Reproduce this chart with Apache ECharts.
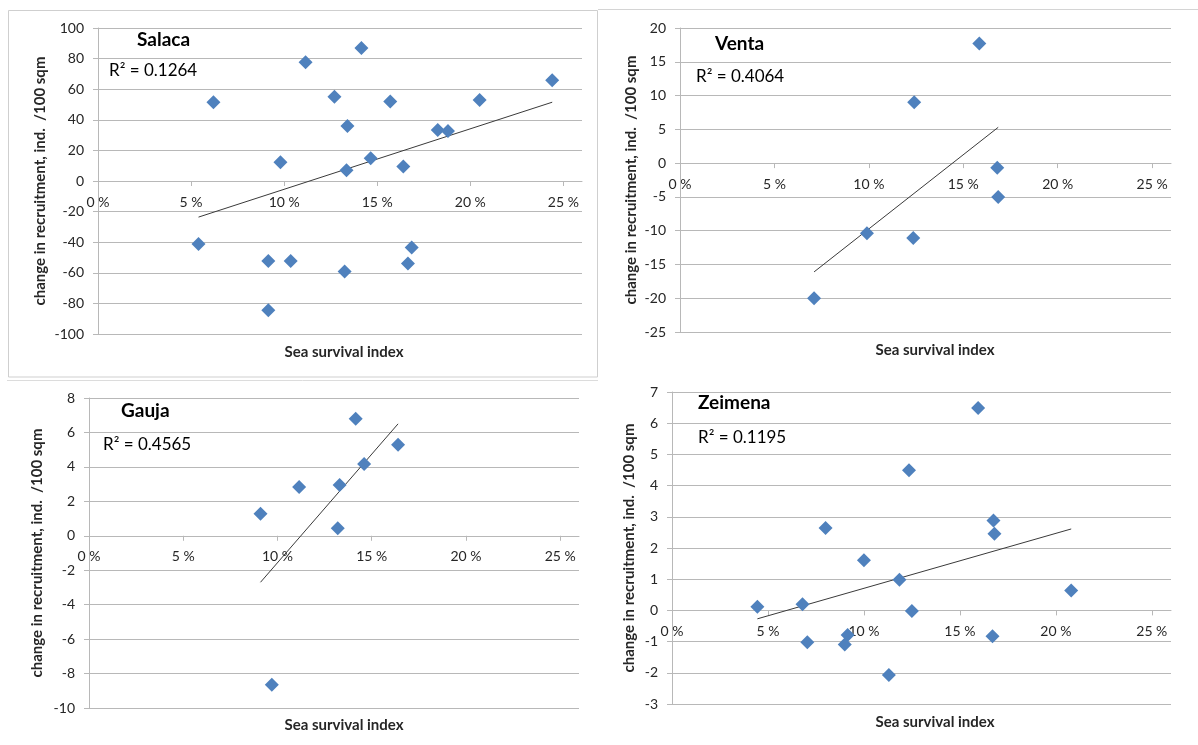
<!DOCTYPE html>
<html>
<head>
<meta charset="utf-8">
<script src="https://cdn.jsdelivr.net/npm/echarts@6/dist/echarts.min.js"></script>
<style>
  html, body { margin: 0; padding: 0; background: #fff; }
  #chart { width: 1198px; height: 745px; }
</style>
</head>
<body>
<div id="chart"></div>
<script>
// sea survival index (%) vs change in recruitment
var salacaPoints = [
  [6.2, 51.5], [5.4, -41.2], [9.8, 12.2], [9.15, -52.3], [9.15, -84.4],
  [10.35, -52.3], [11.15, 77.6], [12.7, 55.0], [13.4, 36.0], [13.35, 7.0],
  [13.25, -59.1], [14.15, 87.0], [14.65, 14.8], [15.7, 51.9], [16.4, 9.4],
  [16.65, -53.9], [16.85, -43.4], [18.25, 33.4], [18.8, 32.7], [20.5, 53.0],
  [24.4, 65.9]
];
var ventaPoints = [
  [7.1, -20.0], [9.9, -10.4], [12.4, 9.0], [12.35, -11.1],
  [15.85, 17.7], [16.8, -0.7], [16.85, -5.0]
];
var gaujaPoints = [
  [9.1, 1.28], [9.7, -8.65], [11.15, 2.83], [13.2, 0.43],
  [13.3, 2.95], [14.15, 6.8], [14.6, 4.17], [16.4, 5.29]
];
var zeimenaPoints = [
  [4.45, 0.12], [6.8, 0.2], [7.05, -1.02], [8.0, 2.64], [9.15, -0.79],
  [9.0, -1.09], [10.0, 1.61], [11.3, -2.07], [11.85, 0.98], [12.35, 4.49],
  [12.5, -0.02], [15.95, 6.49], [16.75, 2.88], [16.8, 2.46], [16.7, -0.83],
  [20.8, 0.64]
];

// linear trendline end points as drawn
var salacaTrend = [[5.4, -23.6], [24.4, 51.5]];
var ventaTrend = [[7.1, -16.1], [16.85, 5.3]];
var gaujaTrend = [[9.1, -2.7], [16.4, 6.5]];
var zeimenaTrend = [[4.45, -0.27], [20.8, 2.61]];

var riverNames = ['Salaca', 'Venta', 'Gauja', 'Zeimena'];
var rSquared = ['0.1264', '0.4064', '0.4565', '0.1195'];
var xTicks = [0, 5, 10, 15, 20, 25];
var yRanges = [[-100, 100, 20], [-25, 20, 5], [-10, 8, 2], [-3, 7, 1]];

var FONT = 'Lato, "Open Sans", sans-serif';
var GRID_COLOR = '#b8b8b8';
var TXT = '#262626';

var grids = [
  {left: 98, top: 28, width: 484, height: 306},
  {left: 680, top: 28, width: 491, height: 304},
  {left: 89, top: 398, width: 490, height: 310},
  {left: 672, top: 392, width: 499, height: 312}
];
var yNameGaps = [50, 41, 44, 35];
var titlePos = [[137, 42], [715, 46], [121, 413], [698, 405]];
var rPos = [[109, 73], [696, 79], [103, 447], [698, 440]];
var xNamePos = [[344, 352], [935, 350], [344, 725], [935, 722]];

var allPoints = [salacaPoints, ventaPoints, gaujaPoints, zeimenaPoints];
var allTrends = [salacaTrend, ventaTrend, gaujaTrend, zeimenaTrend];

var xAxes = [], yAxes = [], series = [], graphics = [];

grids.forEach(function(g, i) {
  // x axis crosses the y axis at zero: lift it from the bottom edge
  var lift = -yRanges[i][0] / (yRanges[i][1] - yRanges[i][0]) * g.height;
  xAxes.push({
    type: 'value', gridIndex: i, min: 0, max: 26, interval: 5,
    position: 'bottom', offset: -lift,
    axisLine: {show: true, onZero: false, lineStyle: {color: GRID_COLOR, width: 1}},
    axisTick: {show: true, length: 5, customValues: xTicks, lineStyle: {color: GRID_COLOR}},
    axisLabel: {
      customValues: xTicks, margin: 14, color: TXT, fontFamily: FONT, fontSize: 14,
      formatter: function(v) { return v + ' %'; }
    },
    splitLine: {show: false}
  });
  yAxes.push({
    type: 'value', gridIndex: i,
    min: yRanges[i][0], max: yRanges[i][1], interval: yRanges[i][2],
    name: 'change in recruitment, ind.  /100 sqm',
    nameLocation: 'middle', nameRotate: 90, nameGap: yNameGaps[i],
    nameTextStyle: {color: TXT, fontFamily: FONT, fontSize: 15, fontWeight: 'bold'},
    axisLine: {show: true, onZero: false, lineStyle: {color: GRID_COLOR, width: 1}},
    axisTick: {show: true, length: 5, lineStyle: {color: GRID_COLOR}},
    axisLabel: {margin: 14, color: TXT, fontFamily: FONT, fontSize: 14},
    splitLine: {show: true, lineStyle: {color: GRID_COLOR, width: 1}}
  });
  series.push({
    type: 'scatter', xAxisIndex: i, yAxisIndex: i,
    symbol: 'diamond', symbolSize: 14,
    itemStyle: {color: '#4F81BD', opacity: 1},
    data: allPoints[i], z: 3
  });
  series.push({
    type: 'line', xAxisIndex: i, yAxisIndex: i,
    symbol: 'none', silent: true,
    lineStyle: {color: '#3a3a3a', width: 1},
    data: allTrends[i], z: 2
  });
  graphics.push({
    type: 'text', left: titlePos[i][0], top: titlePos[i][1] - 12,
    style: {text: riverNames[i], font: 'bold 19px ' + FONT, fill: '#000'}
  });
  graphics.push({
    type: 'text', left: rPos[i][0], top: rPos[i][1] - 11,
    style: {text: 'R² = ' + rSquared[i], font: '17px ' + FONT, fill: '#000'}
  });
  graphics.push({
    type: 'text', x: xNamePos[i][0], y: xNamePos[i][1],
    style: {text: 'Sea survival index', font: 'bold 15px ' + FONT, fill: TXT,
            align: 'center', verticalAlign: 'middle'}
  });
});

// panel frames (only the parts visible in the figure)
graphics.push({type: 'rect', shape: {x: 8.5, y: 10.5, width: 589, height: 366.5},
  style: {fill: 'none', stroke: '#cfcfcf', lineWidth: 1}, silent: true});
graphics.push({type: 'line', shape: {x1: 598, y1: 9.5, x2: 1198, y2: 9.5},
  style: {stroke: '#d4d4d4', lineWidth: 1}, silent: true});
graphics.push({type: 'line', shape: {x1: 7, y1: 380.5, x2: 598, y2: 380.5},
  style: {stroke: '#dcdcdc', lineWidth: 1}, silent: true});

var chart = echarts.init(document.getElementById('chart'));
chart.setOption({
  animation: false,
  backgroundColor: '#fff',
  grid: grids,
  xAxis: xAxes,
  yAxis: yAxes,
  series: series,
  graphic: graphics
});
</script>
</body>
</html>
